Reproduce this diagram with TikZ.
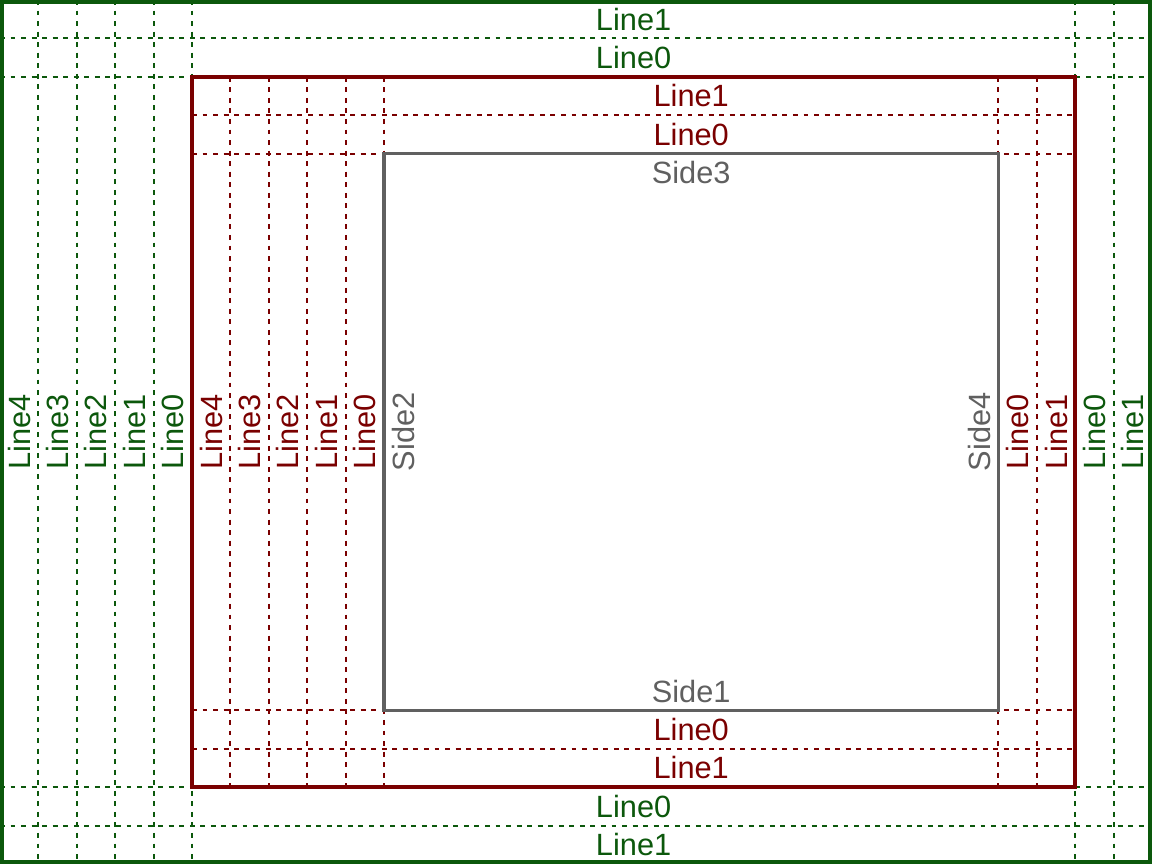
\documentclass[tikz,border=0pt]{standalone}
\usepackage{fontspec}
\setmainfont{Liberation Sans}

\definecolor{outergreen}{RGB}{12,88,12}
\definecolor{innerred}{RGB}{122,0,0}
\definecolor{sidegray}{RGB}{96,96,96}

\tikzset{
  gline/.style={outergreen, line width=1.2pt, dash pattern=on 2.8pt off 3.2pt},
  rline/.style={innerred, line width=1.2pt, dash pattern=on 2.8pt off 3.2pt},
  lbl/.style={font=\fontsize{17.5}{20}\selectfont, inner sep=0pt},
  vlbl/.style={lbl, rotate=90},
}

\begin{document}
\begin{tikzpicture}[x=0.768cm, y=-0.768cm]

  \useasboundingbox (0,0) rectangle (30,22.5);

  \coordinate (G1) at (0.05,0.05);
  \coordinate (G2) at (29.95,22.45);
  \coordinate (R1) at (5,2);
  \coordinate (R2) at (28,20.5);
  \coordinate (S1) at (10,4);
  \coordinate (S2) at (26,18.5);

  % Green guide lines
  \draw[gline] (0,1) -- (30,1);
  \draw[gline] (0,2) -- (30,2);
  \draw[gline] (0,20.5) -- (30,20.5);
  \draw[gline] (0,21.5) -- (30,21.5);
  \draw[gline] (1,0) -- (1,22.5);
  \draw[gline] (2,0) -- (2,22.5);
  \draw[gline] (3,0) -- (3,22.5);
  \draw[gline] (4,0) -- (4,22.5);
  \draw[gline] (5,0) -- (5,22.5);
  \draw[gline] (28,0) -- (28,22.5);
  \draw[gline] (29,0) -- (29,22.5);

  % Red guide lines
  \draw[rline] (5,3) -- (28,3);
  \draw[rline] (5,4) -- (28,4);
  \draw[rline] (5,18.5) -- (28,18.5);
  \draw[rline] (5,19.5) -- (28,19.5);
  \draw[rline] (6,2) -- (6,20.5);
  \draw[rline] (7,2) -- (7,20.5);
  \draw[rline] (8,2) -- (8,20.5);
  \draw[rline] (9,2) -- (9,20.5);
  \draw[rline] (10,2) -- (10,20.5);
  \draw[rline] (26,2) -- (26,20.5);
  \draw[rline] (27,2) -- (27,20.5);

  % Frames
  \draw[outergreen, line width=2.2pt] (G1) rectangle (G2);
  \draw[innerred, line width=2.2pt] (R1) rectangle (R2);
  \draw[sidegray, line width=2pt] (S1) rectangle (S2);

  % Horizontal labels
  \node[lbl, outergreen] (gt1) at (16.5,0.5)  {Line1};
  \node[lbl, outergreen] (gt0) at (16.5,1.5)  {Line0};
  \node[lbl, innerred]   (rt1) at (18,2.5)    {Line1};
  \node[lbl, innerred]   (rt0) at (18,3.5)    {Line0};
  \node[lbl, sidegray]   (s3)  at (18,4.5)    {Side3};
  \node[lbl, sidegray]   (s1)  at (18,18)     {Side1};
  \node[lbl, innerred]   (rb0) at (18,19)     {Line0};
  \node[lbl, innerred]   (rb1) at (18,20)     {Line1};
  \node[lbl, outergreen] (gb0) at (16.5,21)   {Line0};
  \node[lbl, outergreen] (gb1) at (16.5,22)   {Line1};

  % Vertical labels
  \node[vlbl, outergreen] (gl4) at (0.5,11.25)  {Line4};
  \node[vlbl, outergreen] (gl3) at (1.5,11.25)  {Line3};
  \node[vlbl, outergreen] (gl2) at (2.5,11.25)  {Line2};
  \node[vlbl, outergreen] (gl1) at (3.5,11.25)  {Line1};
  \node[vlbl, outergreen] (gl0) at (4.5,11.25)  {Line0};
  \node[vlbl, innerred]   (rl4) at (5.5,11.25)  {Line4};
  \node[vlbl, innerred]   (rl3) at (6.5,11.25)  {Line3};
  \node[vlbl, innerred]   (rl2) at (7.5,11.25)  {Line2};
  \node[vlbl, innerred]   (rl1) at (8.5,11.25)  {Line1};
  \node[vlbl, innerred]   (rl0) at (9.5,11.25)  {Line0};
  \node[vlbl, sidegray]   (s2)  at (10.5,11.25) {Side2};
  \node[vlbl, sidegray]   (s4)  at (25.5,11.25) {Side4};
  \node[vlbl, innerred]   (rr0) at (26.5,11.25) {Line0};
  \node[vlbl, innerred]   (rr1) at (27.5,11.25) {Line1};
  \node[vlbl, outergreen] (gr0) at (28.5,11.25) {Line0};
  \node[vlbl, outergreen] (gr1) at (29.5,11.25) {Line1};

\end{tikzpicture}
\end{document}
